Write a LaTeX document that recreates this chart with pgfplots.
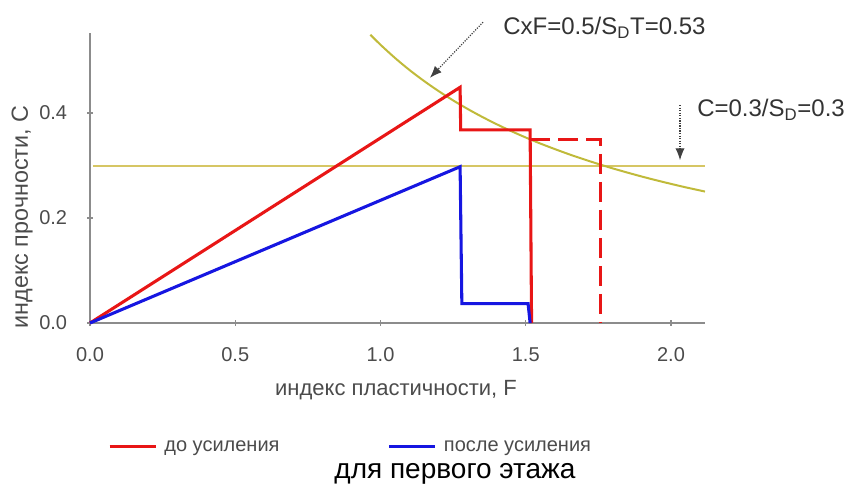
\documentclass[border=0pt]{standalone}
\usepackage{fontspec}
\setmainfont{Liberation Sans}
\usepackage{pgfplots}
\pgfplotsset{compat=1.18}
\usetikzlibrary{arrows.meta}
\definecolor{cred}{RGB}{232,22,22}
\definecolor{cblue}{RGB}{22,22,225}
\definecolor{ylin}{RGB}{214,198,100}
\definecolor{ycur}{RGB}{192,186,58}
\definecolor{tgray}{RGB}{75,75,75}
\definecolor{agray}{RGB}{140,140,140}
\begin{document}
\begin{tikzpicture}
\path[use as bounding box] (-67.5pt,-122.25pt) rectangle (570pt,242.25pt);
\begin{axis}[
  at={(0pt,0pt)}, anchor=south west,
  scale only axis, width=461.25pt, height=217.5pt,
  xmin=0, xmax=2.117, ymin=0, ymax=0.5524,
  axis x line*=bottom, axis y line*=left,
  axis line style={draw=agray, line width=1.5pt, -},
  xtick={0,0.5,1,1.5,2}, ytick={0,0.2,0.4},
  tick style={draw=agray, line width=0.8pt},
  tick align=center, major tick length=4pt,
  /pgf/number format/assume math mode=true,
  /pgf/number format/.cd, fixed, fixed zerofill, precision=1, /pgfplots/.cd,
  tick label style={font=\fontsize{15}{18}\selectfont, text=tgray, inner sep=0pt},
  xticklabel style={anchor=north, yshift=-16pt},
  yticklabel style={anchor=east, xshift=-15pt},
  clip=false,
  legend columns=2,
  legend style={draw=none, fill=none, inner sep=0pt, outer sep=0pt,
    at={(0.0293,-0.427)}, anchor=west,
    font=\fontsize{15}{18}\selectfont, text=tgray,
    nodes={inner sep=0pt},
    /tikz/column 2/.style={column sep=81pt}},
  legend image code/.code={\draw[#1] (0pt,0pt) -- (34.5pt,0pt); \path (40pt,0pt);},
]
\addplot[ylin, line width=1.5pt, forget plot] coordinates {(0.01,0.3) (2.117,0.3)};
\addplot[ycur, line width=1.5pt, smooth, forget plot] coordinates {
(0.965,0.5492) (1.0,0.53) (1.05,0.5048) (1.1,0.4818) (1.15,0.4609) (1.2,0.4417)
(1.25,0.424) (1.3,0.4077) (1.35,0.3926) (1.4,0.3786) (1.45,0.3655) (1.5,0.3533)
(1.55,0.3419) (1.6,0.3313) (1.65,0.3212) (1.7,0.3118) (1.75,0.3029) (1.8,0.2944)
(1.85,0.2865) (1.9,0.2789) (1.95,0.2718) (2.0,0.265) (2.05,0.2585) (2.117,0.2504)};
\addplot[cred, line width=2.3pt, dash pattern=on 15pt off 6pt, forget plot] coordinates {
(1.515,0.349) (1.756,0.349) (1.756,0)};
\addplot[cred, line width=2.3pt] coordinates {
(0,0) (1.274,0.449) (1.276,0.368) (1.515,0.368) (1.52,0)};
\addlegendentry{до усиления}
\addplot[cblue, line width=2.3pt] coordinates {
(0,0) (1.274,0.2977) (1.28,0.037) (1.508,0.037) (1.515,0)};
\addlegendentry{после усиления}
\draw[black!75, densely dotted, line width=0.9pt, -{Latex[length=9pt,width=7pt]}]
  (axis cs:1.353,0.573) -- (axis cs:1.170,0.467);
\draw[black!75, densely dotted, line width=0.9pt, -{Latex[length=9pt,width=7pt]}]
  (axis cs:2.031,0.415) -- (axis cs:2.031,0.310);
\end{axis}
\node[anchor=base west, inner sep=0pt, text=black!80, font=\fontsize{18}{21}\selectfont]
  at (309.75pt,216pt) {CxF=0.5/S\textsubscript{D}T=0.53};
\node[anchor=base west, inner sep=0pt, text=black!80, font=\fontsize{18}{21}\selectfont]
  at (455.25pt,154.5pt) {C=0.3/S\textsubscript{D}=0.3};
\node[anchor=base, inner sep=0pt, text=tgray, font=\fontsize{16.5}{19}\selectfont]
  at (229.5pt,-54pt) {индекс пластичности, F};
\node[anchor=base, inner sep=0pt, rotate=90, text=tgray, font=\fontsize{17.5}{20}\selectfont]
  at (-46.5pt,79.5pt) {индекс прочности, C};
\node[anchor=base, inner sep=0pt, text=black, font=\fontsize{21}{25}\selectfont]
  at (273.75pt,-116.5pt) {для первого этажа};
\end{tikzpicture}
\end{document}
